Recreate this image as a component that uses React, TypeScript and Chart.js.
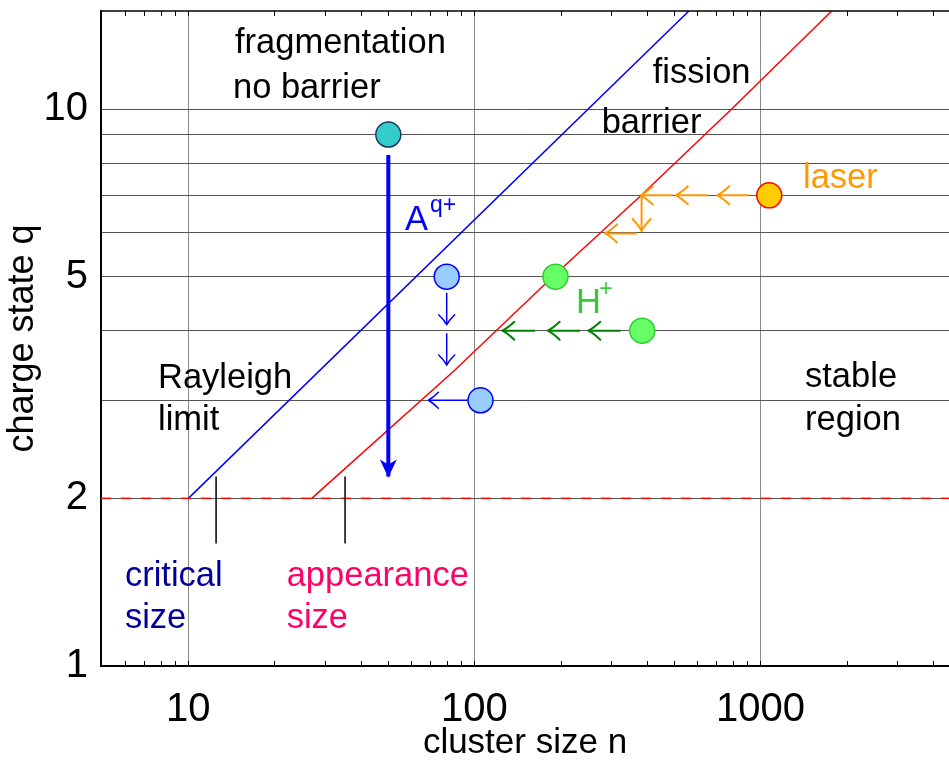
import React, { useEffect, useRef } from 'react';
import { Chart, registerables } from 'chart.js';

Chart.register(...registerables);

// ---------- data ----------
const xLabelTicks = [10, 100, 1000];
const xMinorTicks = [5, 6, 7, 8, 9, 10, 20, 30, 40, 50, 60, 70, 80, 90, 100, 200, 300, 400, 500, 600, 700, 800, 900, 1000, 2000, 3000, 4000];
const yLabelTicks = [1, 2, 5, 10];
const yGridValues = [1, 2, 3, 4, 5, 6, 7, 8, 9, 10];

const rayleighLimit = [{ x: 10, y: 2 }, { x: 562, y: 15 }];
const fissionBarrier = [
  { x: 27, y: 2 }, { x: 85.5, y: 3.4 }, { x: 191, y: 5.04 }, { x: 384, y: 7.01 }, { x: 793, y: 10 }, { x: 1774, y: 15 },
];
const minimumCharge = [{ x: 4.95, y: 2 }, { x: 4560, y: 2 }];
const criticalSizeMark = [{ x: 12.5, y: 2.19 }, { x: 12.5, y: 1.66 }];
const appearanceSizeMark = [{ x: 35.3, y: 2.19 }, { x: 35.3, y: 1.66 }];

const fragmentationArrow = [{ x: 50, y: 8.27 }, { x: 50, y: 2.19 }];
const ionArrows = [
  [{ x: 80, y: 4.68 }, { x: 80, y: 4.1 }],
  [{ x: 80, y: 3.96 }, { x: 80, y: 3.47 }],
  [{ x: 94.9, y: 3 }, { x: 69, y: 3 }],
];
const protonArrows = [
  [{ x: 324.5, y: 4 }, { x: 250, y: 4 }],
  [{ x: 233.9, y: 4 }, { x: 180.3, y: 4 }],
  [{ x: 162.8, y: 4 }, { x: 125.1, y: 4 }],
];
const laserArrows = [
  [{ x: 913, y: 7 }, { x: 706, y: 7 }],
  [{ x: 657, y: 7 }, { x: 506, y: 7 }],
  [{ x: 493, y: 7 }, { x: 381, y: 7 }],
  [{ x: 384, y: 7 }, { x: 384, y: 6.04 }],
  [{ x: 369, y: 5.98 }, { x: 286, y: 5.98 }],
];

const fragmentationPoints = [{ x: 50, y: 9 }];
const ionPoints = [{ x: 80, y: 5 }, { x: 105, y: 3 }];
const protonPoints = [{ x: 192, y: 5 }, { x: 386, y: 4 }];
const laserPoints = [{ x: 1073, y: 7 }];

// annotation anchors (left, baseline) in data coordinates
const annotationTexts = ['fragmentation', 'no barrier', 'fission', 'barrier', 'laser', 'A', 'q+', 'H', '+', 'Rayleigh', 'limit', 'stable', 'region', 'critical', 'size', 'appearance', 'size'];
const annotationN = [14.55, 14.32, 420, 278.5, 1408, 57.2, 69.9, 226.5, 273, 7.83, 7.83, 1431, 1431, 6.0, 6.0, 22.06, 22.06];
const annotationQ = [12.63, 10.47, 11.14, 9.07, 7.21, 6.07, 6.54, 4.3, 4.62, 3.16, 2.65, 3.17, 2.65, 1.39, 1.17, 1.39, 1.17];
const annotationGroup = ['plain', 'plain', 'plain', 'plain', 'laser', 'ion', 'ionSup', 'proton', 'protonSup', 'plain', 'plain', 'plain', 'plain', 'critical', 'critical', 'appearance', 'appearance'];

// ---------- styles ----------
const FONT = '"Liberation Sans", Arial, Helvetica, sans-serif';
const groupStyle: Record<string, { color: string; size: number }> = {
  plain: { color: '#000000', size: 34.5 },
  laser: { color: '#FF9900', size: 34.5 },
  ion: { color: '#0000FF', size: 34.5 },
  ionSup: { color: '#0000FF', size: 23 },
  proton: { color: '#33CC33', size: 34.5 },
  protonSup: { color: '#33CC33', size: 23 },
  critical: { color: '#000099', size: 34.5 },
  appearance: { color: '#FF0066', size: 34.5 },
};

function lineDs(data: any[], color: string, width: number, extra: any = {}) {
  return {
    data,
    showLine: true,
    borderColor: color,
    backgroundColor: color,
    borderWidth: width,
    pointRadius: 0,
    pointHoverRadius: 0,
    fill: false,
    tension: 0,
    ...extra,
  };
}

function pointDs(data: any[], fill: string, border: string) {
  return {
    data,
    showLine: false,
    pointRadius: 12.5,
    pointHoverRadius: 12.5,
    pointBorderWidth: 1.5,
    pointBackgroundColor: fill,
    pointBorderColor: border,
    backgroundColor: fill,
    borderColor: border,
  };
}

const overlayPlugin = {
  id: 'overlay',
  afterDatasetsDraw(chart: any) {
    const ctx = chart.ctx as CanvasRenderingContext2D;
    const { left, right, top, bottom } = chart.chartArea;
    const xs = chart.scales.x;
    const ys = chart.scales.y;
    ctx.save();
    // top frame line
    ctx.strokeStyle = '#000';
    ctx.lineWidth = 1.5;
    ctx.beginPath();
    ctx.moveTo(left, top);
    ctx.lineTo(right, top);
    ctx.stroke();
    // inward minor ticks top and bottom
    ctx.lineWidth = 1;
    ctx.beginPath();
    for (const v of xMinorTicks) {
      const px = Math.round(xs.getPixelForValue(v)) + 0.5;
      if (px < left + 2 || px > right) continue;
      ctx.moveTo(px, bottom);
      ctx.lineTo(px, bottom - 5);
      ctx.moveTo(px, top);
      ctx.lineTo(px, top + 5);
    }
    ctx.stroke();

    // arrowheads
    chart.data.datasets.forEach((ds: any, i: number) => {
      if (!ds.arrowHead) return;
      const meta = chart.getDatasetMeta(i);
      const pts = meta.data;
      if (pts.length < 2) return;
      const p0 = pts[pts.length - 2];
      const p1 = pts[pts.length - 1];
      const ang = Math.atan2(p1.y - p0.y, p1.x - p0.x);
      ctx.save();
      ctx.translate(p1.x, p1.y);
      ctx.rotate(ang);
      ctx.fillStyle = ds.borderColor;
      ctx.strokeStyle = ds.borderColor;
      ctx.lineWidth = ds.borderWidth;
      ctx.lineCap = 'round';
      ctx.lineJoin = 'round';
      if (ds.arrowHead === 'filled') {
        ctx.beginPath();
        ctx.moveTo(1, 0);
        ctx.lineTo(-17, -8.5);
        ctx.lineTo(-12, 0);
        ctx.lineTo(-17, 8.5);
        ctx.closePath();
        ctx.fill();
      } else {
        const L = ds.headLength || 11;
        const W = ds.headWidth || 8.5;
        ctx.beginPath();
        ctx.moveTo(-L, -W);
        ctx.quadraticCurveTo(-L * 0.45, -W * 0.3, 0, 0);
        ctx.quadraticCurveTo(-L * 0.45, W * 0.3, -L, W);
        ctx.stroke();
      }
      ctx.restore();
    });

    // annotations
    ctx.textAlign = 'left';
    ctx.textBaseline = 'alphabetic';
    annotationTexts.forEach((t, i) => {
      const st = groupStyle[annotationGroup[i]];
      ctx.font = `${st.size}px ${FONT}`;
      ctx.fillStyle = st.color;
      ctx.fillText(t, xs.getPixelForValue(annotationN[i]), ys.getPixelForValue(annotationQ[i]));
    });
    ctx.restore();
  },
};

export default function App() {
  const ref = useRef<HTMLCanvasElement>(null);
  useEffect(() => {
    document.body.style.margin = '0';
    document.body.style.overflow = 'hidden';
    document.documentElement.style.overflow = 'hidden';
    const canvas = ref.current!;
    const chart = new Chart(canvas, {
      type: 'scatter',
      data: {
        datasets: [
          pointDs(fragmentationPoints, '#33CCCC', '#1F3A5F'),
          pointDs(ionPoints, '#99CCFF', '#0000FF'),
          pointDs(protonPoints, '#66FF66', '#33CC33'),
          pointDs(laserPoints, '#FFCC00', '#FF0000'),
          lineDs(fragmentationArrow, '#0000FF', 4, { arrowHead: 'filled' }),
          ...ionArrows.map((a) => lineDs(a, '#0000FF', 1.5, { arrowHead: 'open', headLength: 10, headWidth: 8 })),
          ...protonArrows.map((a) => lineDs(a, '#008000', 2, { arrowHead: 'open', headLength: 12, headWidth: 9 })),
          ...laserArrows.map((a) => lineDs(a, '#FF9900', 2, { arrowHead: 'open', headLength: 12, headWidth: 9 })),
          lineDs(criticalSizeMark, '#000000', 1.5),
          lineDs(appearanceSizeMark, '#000000', 1.5),
          lineDs(minimumCharge, '#FF0000', 1.5, { borderDash: [10, 10] }),
          lineDs(rayleighLimit, '#0000FF', 1.5),
          lineDs(fissionBarrier, '#FF0000', 1.5),
        ] as any,
      },
      options: {
        animation: false,
        responsive: false,
        maintainAspectRatio: false,
        devicePixelRatio: 1,
        events: [],
        layout: { autoPadding: false, padding: { top: 11, left: 0, right: 0, bottom: 0 } },
        plugins: { legend: { display: false }, tooltip: { enabled: false } },
        scales: {
          x: {
            type: 'logarithmic',
            bounds: 'data',
            min: 4.95,
            max: 4560,
            afterBuildTicks: (s: any) => {
              s.min = 4.95;
              s.max = 4560;
              s.ticks = xMinorTicks.map((v) => ({ value: v }));
            },
            afterFit: (s: any) => {
              s.height = 103;
              s.paddingLeft = 0;
              s.paddingRight = 0;
            },
            ticks: {
              autoSkip: false,
              maxRotation: 0,
              minRotation: 0,
              padding: 20,
              color: '#000',
              font: { size: 40, family: FONT },
              callback: (_v: any, i: number, ticks: any[]) =>
                xLabelTicks.includes(ticks[i].value) ? String(ticks[i].value) : '',
            },
            grid: {
              drawTicks: false,
              lineWidth: 1,
              color: (c: any) => (c.tick && xLabelTicks.includes(c.tick.value) ? '#8a8a8a' : 'rgba(0,0,0,0)'),
            },
            border: { color: '#000', width: 2 },
            title: {
              display: true,
              text: 'cluster size n',
              color: '#000',
              font: { size: 35, family: FONT },
              padding: { top: 0, bottom: 5 },
            },
          },
          y: {
            type: 'logarithmic',
            bounds: 'data',
            min: 1,
            max: 15,
            afterBuildTicks: (s: any) => {
              s.min = 1;
              s.max = 15;
              s.ticks = yGridValues.map((v) => ({ value: v }));
            },
            afterFit: (s: any) => {
              s.width = 101;
              s.paddingTop = 0;
              s.paddingBottom = 0;
            },
            ticks: {
              autoSkip: false,
              padding: 13,
              color: '#000',
              font: { size: 40, family: FONT },
              callback: (_v: any, i: number, ticks: any[]) =>
                yLabelTicks.includes(ticks[i].value) ? String(ticks[i].value) : '',
            },
            grid: {
              drawTicks: false,
              lineWidth: 1,
              color: (c: any) => (c.tick && c.tick.value >= 2 ? '#555555' : 'rgba(0,0,0,0)'),
            },
            border: { color: '#000', width: 2 },
            title: {
              display: true,
              text: 'charge state q',
              color: '#000',
              font: { size: 36, family: FONT },
              padding: { top: 1, bottom: 0 },
            },
          },
        },
      } as any,
      plugins: [overlayPlugin],
    });
    return () => chart.destroy();
  }, []);
  return (
    <div style={{ position: 'absolute', left: 0, top: 0, width: 949, height: 769, overflow: 'hidden' }}>
      <canvas ref={ref} width={949} height={769} style={{ display: 'block', width: 949, height: 769 }} />
    </div>
  );
}
